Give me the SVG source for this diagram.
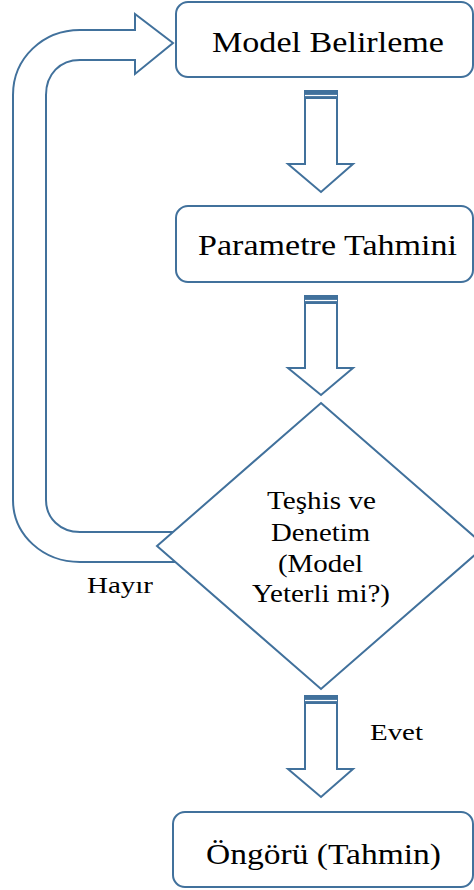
<svg xmlns="http://www.w3.org/2000/svg" width="474" height="890" viewBox="0 0 474 890">
<style>
.s{fill:#fff;stroke:#41719C;stroke-width:2;stroke-linejoin:miter}
text{fill:#000}
.bar{fill:#41719C}
.gap{stroke:#fff;stroke-width:1.2}
</style>
<rect width="474" height="890" fill="#fff"/>
<g id="connectors" font-family="Liberation Serif, Tinos, Times New Roman, serif">
  <path id="loop-hayir" class="s" d="M180 562 L80 562 C43 562 13 535 13 500 L13 95 C13 58 43 30 80 30 L135 30 L135 14 L173 43 L135 74 L135 60 L80 60 C60 60 46 74 46 95 L46 500 C46 518 60 532 80 532 L180 532 Z"/>
  <g id="arrow1">
    <polygon class="s" points="305,91 337,91 337,164 353,164 321,192 288,164 305,164"/>
    <rect class="bar" x="304" y="90" width="34" height="9"/>
    <line class="gap" x1="305" y1="95.5" x2="337" y2="95.5"/>
  </g>
  <g id="arrow2">
    <polygon class="s" points="305,296 337,296 337,368 353,368 321,395 288,368 305,368"/>
    <rect class="bar" x="304" y="295" width="34" height="9"/>
    <line class="gap" x1="305" y1="300.5" x2="337" y2="300.5"/>
  </g>
  <g id="arrow3">
    <polygon class="s" points="305,696 337,696 337,769 353,769 321,797 288,769 305,769"/>
    <rect class="bar" x="304" y="695" width="34" height="9"/>
    <line class="gap" x1="305" y1="700.5" x2="337" y2="700.5"/>
  </g>
  <text x="87" y="593" font-size="24" textLength="66" lengthAdjust="spacingAndGlyphs">Hayır</text>
  <text x="370" y="740" font-size="24" textLength="53" lengthAdjust="spacingAndGlyphs">Evet</text>
</g>
<g id="node-model" font-family="Liberation Serif, Tinos, Times New Roman, serif">
  <rect class="s" x="176" y="2" width="297" height="75" rx="12"/>
  <text x="212" y="52" font-size="30" textLength="232" lengthAdjust="spacingAndGlyphs">Model Belirleme</text>
</g>
<g id="node-parametre" font-family="Liberation Serif, Tinos, Times New Roman, serif">
  <rect class="s" x="176" y="206" width="297" height="76" rx="12"/>
  <text x="198" y="255" font-size="29" textLength="259" lengthAdjust="spacingAndGlyphs">Parametre Tahmini</text>
</g>
<g id="node-teshis" font-family="Liberation Serif, Tinos, Times New Roman, serif">
  <polygon class="s" points="321,403 485,546 321,689 157,546"/>
  <text x="267" y="509" font-size="26" textLength="109" lengthAdjust="spacingAndGlyphs">Teşhis ve</text>
  <text x="271" y="541" font-size="26" textLength="99" lengthAdjust="spacingAndGlyphs">Denetim</text>
  <text x="278" y="572" font-size="26" textLength="85" lengthAdjust="spacingAndGlyphs">(Model</text>
  <text x="252" y="602" font-size="26" textLength="138" lengthAdjust="spacingAndGlyphs">Yeterli mi?)</text>
</g>
<g id="node-ongoru" font-family="Liberation Serif, Tinos, Times New Roman, serif">
  <rect class="s" x="173" y="812" width="300" height="75" rx="12"/>
  <text x="206" y="864" font-size="29" textLength="235" lengthAdjust="spacingAndGlyphs">Öngörü (Tahmin)</text>
</g>
</svg>
